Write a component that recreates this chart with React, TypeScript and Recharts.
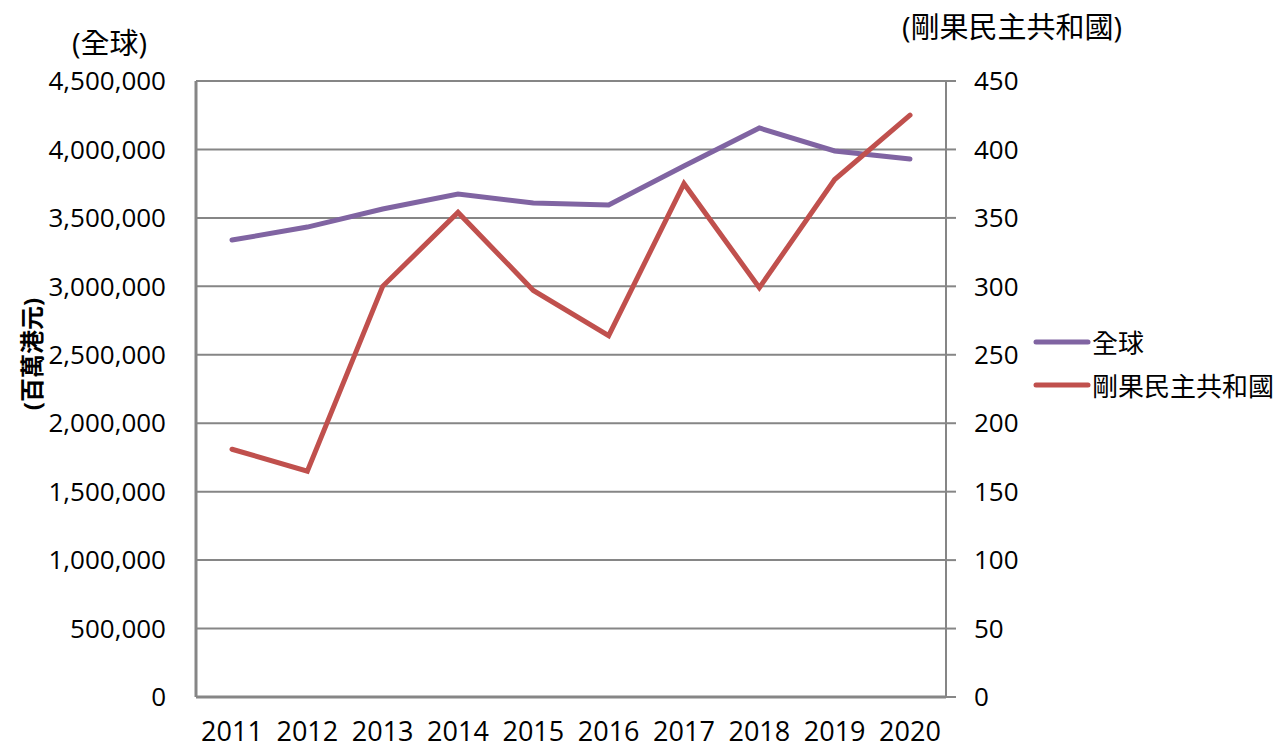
import { LineChart, Line, XAxis, YAxis, CartesianGrid } from "recharts";

const years = ["2011", "2012", "2013", "2014", "2015", "2016", "2017", "2018", "2019", "2020"];
const globalValues = [3338000, 3433000, 3565000, 3674000, 3609000, 3594000, 3879000, 4157000, 3989000, 3930000];
const congoValues = [181, 165, 300, 354, 297, 264, 375, 299, 378, 425];
const leftTicks = [0, 500000, 1000000, 1500000, 2000000, 2500000, 3000000, 3500000, 4000000, 4500000];
const rightTicks = [0, 50, 100, 150, 200, 250, 300, 350, 400, 450];

const globalName = "全球";
const congoName = "剛果民主共和國";

const data = years.map((year, i) => ({
  year,
  global: globalValues[i],
  congo: congoValues[i],
}));

const font = "'Open Sans', 'Noto Sans CJK TC', sans-serif";
const axisColor = "#868686";
const purple = "#8064A2";
const red = "#C0504D";

const fmt = (v: number) => v.toLocaleString("en-US");

export default function App() {
  return (
    <div
      style={{
        position: "absolute",
        left: 0,
        top: 0,
        width: 1281,
        height: 750,
        background: "#fff",
        fontFamily: font,
        color: "#000",
      }}
    >
      <LineChart
        width={1281}
        height={750}
        data={data}
        margin={{ top: 81, right: 0, bottom: 0, left: 0 }}
      >
        <CartesianGrid
          horizontal
          vertical={false}
          stroke={axisColor}
          strokeWidth={2}
          yAxisId="left"
        />
        <XAxis
          dataKey="year"
          height={53}
          padding={{ left: 36, right: 36 }}
          axisLine={{ stroke: axisColor, strokeWidth: 3 }}
          tickLine={false}
          tickSize={0}
          tickMargin={25}
          tick={{ fontSize: 27, fill: "#000", fontFamily: font }}
          interval={0}
        />
        <YAxis
          yAxisId="left"
          width={196}
          domain={[0, 4500000]}
          ticks={leftTicks}
          tickFormatter={fmt}
          axisLine={{ stroke: axisColor, strokeWidth: 3 }}
          tickLine={false}
          tickSize={0}
          tickMargin={30}
          tick={{ fontSize: 26, fill: "#000", fontFamily: font }}
        />
        <YAxis
          yAxisId="right"
          orientation="right"
          width={335}
          domain={[0, 450]}
          ticks={rightTicks}
          axisLine={{ stroke: axisColor, strokeWidth: 2 }}
          tickLine={{ stroke: axisColor, strokeWidth: 2 }}
          tickSize={10}
          tickMargin={18}
          tick={{ fontSize: 26, fill: "#000", fontFamily: font }}
        />
        <Line
          yAxisId="left"
          dataKey="global"
          name={globalName}
          stroke={purple}
          strokeWidth={5}
          strokeLinecap="round"
          dot={false}
          isAnimationActive={false}
        />
        <Line
          yAxisId="right"
          dataKey="congo"
          name={congoName}
          stroke={red}
          strokeWidth={5}
          strokeLinecap="round"
          dot={false}
          isAnimationActive={false}
        />
      </LineChart>

      <div style={{ position: "absolute", left: 72, top: 24, fontSize: 29, lineHeight: "38px" }}>
        ({globalName})
      </div>
      <div style={{ position: "absolute", left: 902, top: 8, fontSize: 29, lineHeight: "38px" }}>
        ({congoName})
      </div>
      <div
        style={{
          position: "absolute",
          left: 30,
          top: 354,
          transform: "translate(-50%, -50%) rotate(-90deg)",
          fontSize: 24,
          fontWeight: "bold",
          whiteSpace: "nowrap",
        }}
      >
        (百萬港元)
      </div>

      <div style={{ position: "absolute", left: 1032, top: 320, fontSize: 26 }}>
        {[
          { name: globalName, color: purple },
          { name: congoName, color: red },
        ].map((item) => (
          <div key={item.name} style={{ display: "flex", alignItems: "center", height: 43 }}>
            <svg width={60} height={10}>
              <line x1={4} y1={5} x2={56} y2={5} stroke={item.color} strokeWidth={5} strokeLinecap="round" />
            </svg>
            <span>{item.name}</span>
          </div>
        ))}
      </div>
    </div>
  );
}
